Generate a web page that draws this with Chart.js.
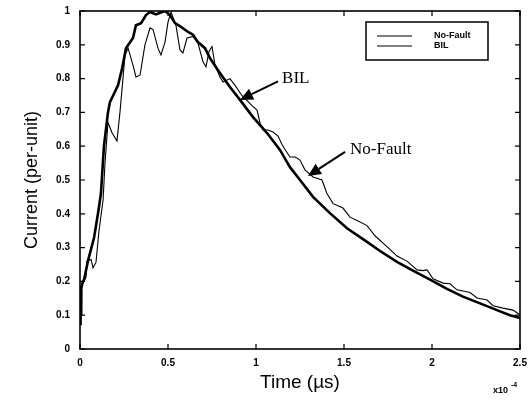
<!DOCTYPE html>
<html>
<head>
<meta charset="utf-8">
<script src="https://cdn.jsdelivr.net/npm/chart.js@4.4.1/dist/chart.umd.min.js"></script>
<style>
  html, body { margin: 0; padding: 0; background: #fff; }
  #wrap { width: 531px; height: 402px; position: relative; }
</style>
</head>
<body>
<div id="wrap"><canvas id="c" width="531" height="402"></canvas></div>
<script>
// Time in units of 1e-4 s (axis shows "x10^-4")
const xTickValues = [0, 0.5, 1, 1.5, 2, 2.5];
const yTickValues = [0, 0.1, 0.2, 0.3, 0.4, 0.5, 0.6, 0.7, 0.8, 0.9, 1];
const seriesLabels = ["No-Fault", "BIL"];

const bilTime = [0.003,0.006,0.017,0.023,0.045,0.080,0.102,0.119,0.136,0.159,0.170,0.193,0.216,0.239,0.261,0.301,0.318,0.347,0.375,0.398,0.432,0.455,0.483,0.511,0.540,0.574,0.614,0.642,0.670,0.710,0.739,0.784,0.852,0.909,0.983,1.063,1.136,1.193,1.250,1.324,1.420,1.517,1.608,1.705,1.801,1.892,1.989,2.085,2.176,2.273,2.369,2.443,2.500];
const bilCurrent = [0.07,0.18,0.20,0.205,0.26,0.33,0.40,0.46,0.60,0.70,0.73,0.755,0.78,0.83,0.89,0.92,0.958,0.964,0.988,0.997,0.99,0.995,1.0,0.988,0.964,0.953,0.938,0.93,0.908,0.89,0.86,0.825,0.775,0.737,0.686,0.639,0.589,0.538,0.50,0.45,0.402,0.357,0.325,0.29,0.258,0.232,0.205,0.178,0.155,0.135,0.115,0.10,0.092];

const nfTime = [0.006,0.011,0.017,0.034,0.040,0.063,0.074,0.091,0.108,0.131,0.142,0.159,0.182,0.210,0.227,0.244,0.256,0.273,0.301,0.318,0.341,0.369,0.398,0.415,0.443,0.460,0.483,0.500,0.517,0.545,0.568,0.585,0.608,0.642,0.670,0.699,0.716,0.733,0.750,0.767,0.795,0.813,0.852,0.881,0.920,0.977,1.006,1.023,1.040,1.068,1.097,1.125,1.148,1.165,1.193,1.222,1.250,1.278,1.324,1.375,1.403,1.438,1.494,1.534,1.574,1.631,1.676,1.722,1.761,1.801,1.858,1.915,1.949,1.972,2.006,2.063,2.102,2.142,2.216,2.256,2.313,2.347,2.403,2.460,2.489,2.500];
const nfCurrent = [0.10,0.19,0.195,0.213,0.26,0.265,0.24,0.257,0.35,0.44,0.55,0.67,0.64,0.615,0.70,0.80,0.87,0.89,0.84,0.805,0.81,0.90,0.95,0.945,0.89,0.87,0.908,0.967,0.997,0.958,0.885,0.876,0.92,0.925,0.905,0.85,0.835,0.88,0.895,0.84,0.805,0.79,0.80,0.78,0.75,0.72,0.707,0.668,0.648,0.648,0.642,0.63,0.605,0.59,0.568,0.568,0.559,0.53,0.509,0.50,0.46,0.43,0.417,0.39,0.38,0.365,0.335,0.313,0.295,0.275,0.26,0.234,0.232,0.234,0.208,0.195,0.193,0.175,0.167,0.151,0.145,0.128,0.121,0.115,0.105,0.10];

// annotations: text, text position, arrow tail, arrow tip (data units)
const annoText = ["BIL", "No-Fault"];
const annoTextPos = [[1.148, 0.80], [1.534, 0.589]];
const annoTail = [[1.125, 0.792], [1.506, 0.583]];
const annoTip = [[0.909, 0.737], [1.295, 0.512]];

const toPts = (xs, ys) => xs.map((x, i) => ({x: x, y: ys[i]}));
const fmt = v => String(Math.round(v * 100) / 100);

const framePlugin = {
  id: 'frame',
  afterDatasetsDraw(chart) {
    const ctx = chart.ctx;
    const a = chart.chartArea;
    const xs = chart.scales.x, ys = chart.scales.y;
    ctx.save();
    ctx.strokeStyle = '#000';
    ctx.lineWidth = 1.6;
    ctx.strokeRect(a.left, a.top, a.right - a.left, a.bottom - a.top);
    ctx.lineWidth = 1.2;
    ctx.beginPath();
    yTickValues.forEach(v => {
      const p = ys.getPixelForValue(v);
      ctx.moveTo(a.left, p); ctx.lineTo(a.left + 5, p);
      ctx.moveTo(a.right, p); ctx.lineTo(a.right - 5, p);
    });
    xTickValues.forEach(v => {
      const p = xs.getPixelForValue(v);
      ctx.moveTo(p, a.bottom); ctx.lineTo(p, a.bottom - 5);
      ctx.moveTo(p, a.top); ctx.lineTo(p, a.top + 5);
    });
    ctx.stroke();

    // legend box
    const bx = a.right - 154, by = a.top + 11, bw = 122, bh = 38;
    ctx.fillStyle = '#fff';
    ctx.fillRect(bx, by, bw, bh);
    ctx.lineWidth = 1.5;
    ctx.strokeRect(bx, by, bw, bh);
    ctx.lineWidth = 1.1;
    ctx.fillStyle = '#000';
    ctx.font = 'bold 9px "Liberation Sans", Arial, sans-serif';
    ctx.textBaseline = 'middle';
    ctx.textAlign = 'left';
    chart.data.datasets.forEach((ds, i) => {
      const ly = by + 14 + i * 10;
      ctx.beginPath();
      ctx.moveTo(bx + 11, ly); ctx.lineTo(bx + 46, ly);
      ctx.stroke();
      ctx.fillText(ds.label, bx + 68, ly);
    });

    // annotations
    ctx.font = '17px "Liberation Serif", "Times New Roman", serif';
    ctx.textBaseline = 'middle';
    annoText.forEach((t, i) => {
      const tx = xs.getPixelForValue(annoTextPos[i][0]);
      const ty = ys.getPixelForValue(annoTextPos[i][1]);
      ctx.fillText(t, tx, ty);
      const x0 = xs.getPixelForValue(annoTail[i][0]), y0 = ys.getPixelForValue(annoTail[i][1]);
      const x1 = xs.getPixelForValue(annoTip[i][0]), y1 = ys.getPixelForValue(annoTip[i][1]);
      const ang = Math.atan2(y1 - y0, x1 - x0);
      const hl = 13, hw = 6;
      const bxp = x1 - hl * Math.cos(ang), byp = y1 - hl * Math.sin(ang);
      ctx.lineWidth = 2;
      ctx.beginPath(); ctx.moveTo(x0, y0); ctx.lineTo(bxp, byp); ctx.stroke();
      ctx.beginPath();
      ctx.moveTo(x1, y1);
      ctx.lineTo(bxp + hw * Math.sin(ang), byp - hw * Math.cos(ang));
      ctx.lineTo(bxp - hw * Math.sin(ang), byp + hw * Math.cos(ang));
      ctx.closePath(); ctx.fill();
    });

    // exponent label
    ctx.font = 'bold 9px "Liberation Sans", Arial, sans-serif';
    ctx.textAlign = 'left';
    ctx.textBaseline = 'alphabetic';
    ctx.fillText('x10', a.right - 27, a.bottom + 44);
    ctx.font = 'bold 7px "Liberation Sans", Arial, sans-serif';
    ctx.fillText('-4', a.right - 9, a.bottom + 38);
    ctx.restore();
  }
};

new Chart(document.getElementById('c'), {
  type: 'line',
  data: {
    datasets: [
      { label: seriesLabels[0], data: toPts(nfTime, nfCurrent), borderColor: '#000', borderWidth: 1.1, pointRadius: 0, tension: 0, fill: false },
      { label: seriesLabels[1], data: toPts(bilTime, bilCurrent), borderColor: '#000', borderWidth: 2.6, pointRadius: 0, tension: 0, fill: false }
    ]
  },
  options: {
    responsive: false,
    animation: false,
    layout: { padding: { top: 11, right: 11, left: 0, bottom: 0 } },
    plugins: { legend: { display: false }, tooltip: { enabled: false } },
    scales: {
      x: {
        type: 'linear', min: 0, max: 2.5,
        afterBuildTicks: s => { s.ticks = xTickValues.map(v => ({value: v})); },
        afterFit: s => { s.height = 53; s.paddingLeft = 0; s.paddingRight = 0; },
        grid: { display: false, drawTicks: false },
        border: { display: false },
        ticks: { color: '#000', padding: 8, maxRotation: 0, callback: v => fmt(v), font: { family: '"Liberation Sans", Arial, sans-serif', size: 10, weight: 'bold' } },
        title: { display: true, text: 'Time (µs)', color: '#000', padding: { top: 0, bottom: 8 }, font: { family: '"Liberation Sans", Arial, sans-serif', size: 19 } }
      },
      y: {
        type: 'linear', min: 0, max: 1,
        afterBuildTicks: s => { s.ticks = yTickValues.map(v => ({value: v})); },
        afterFit: s => { s.width = 80; s.paddingTop = 0; s.paddingBottom = 0; },
        grid: { display: false, drawTicks: false },
        border: { display: false },
        ticks: { color: '#000', padding: 10, callback: v => fmt(v), font: { family: '"Liberation Sans", Arial, sans-serif', size: 10, weight: 'bold' } },
        title: { display: true, text: 'Current (per-unit)', color: '#000', padding: { top: 21, bottom: 0 }, font: { family: '"Liberation Sans", Arial, sans-serif', size: 18 } }
      }
    }
  },
  plugins: [framePlugin]
});
</script>
</body>
</html>
